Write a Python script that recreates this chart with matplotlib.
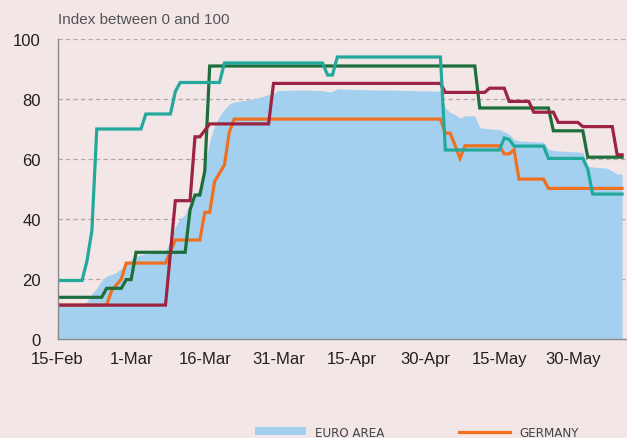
import matplotlib
matplotlib.use("Agg")
import matplotlib.pyplot as plt
import matplotlib.dates as mdates
from matplotlib import font_manager
from matplotlib.patches import Patch
from matplotlib.lines import Line2D
import pandas as pd

START = pd.Timestamp("2020-02-15")

# Day offsets from 15-Feb-2020 and index values (0-100)
euro_days = [0, 5, 6, 7, 8, 9, 10, 11, 12, 13, 14, 15, 16, 17, 18, 22, 23, 24, 25, 26, 27, 28, 29, 30,
             31, 32, 33, 34, 35, 36, 38, 40, 42, 44, 45, 50, 54, 55, 56, 57, 60, 65, 70, 75, 78, 79,
             80, 81, 82, 83, 85, 86, 87, 90, 92, 93, 94, 99, 100, 101, 107, 108, 112, 113, 114, 115]
euro_vals = [11.5, 11.7, 12.5, 15, 17, 19.5, 21, 21.5, 22.2, 23.5, 25, 26.5, 27.5, 28, 28.5, 29, 33, 37.5, 40, 41.5,
             45.5, 48, 50, 57.8, 66, 71, 74.3, 76.5, 78.3, 79, 79.5, 80, 81, 82, 82.8, 83, 82.8, 82.4, 82.5,
             83.4, 83.2, 83, 82.9, 82.7, 82.6, 77, 75.5, 74.8, 73.6, 74.4, 74.4, 70.5, 70.2, 69.8, 68.3, 66.5,
             66, 65.6, 63.3, 62.8, 62.2, 57.5, 56.9, 56, 55, 55]

germany_days = [0, 10, 11, 13, 14, 22, 24, 29, 30, 31, 32, 34, 35, 36, 78, 79, 80, 82, 83, 90, 91, 92, 93,
                94, 99, 100, 115]
germany_vals = [11.3, 11.3, 16, 20, 25.3, 25.3, 33, 33, 42.2, 42.2, 52.5, 58, 69, 73.3, 73.3, 68.6, 68.6, 60.2,
                64.4, 64.4, 61.7, 61.7, 63.1, 53.3, 53.3, 50.2, 50.2]

france_days = [0, 9, 10, 13, 14, 15, 16, 26, 27, 28, 29, 30, 31, 85, 86, 100, 101, 107, 108, 115]
france_vals = [13.9, 13.9, 16.9, 16.9, 19.8, 19.8, 28.9, 28.9, 43, 48, 48, 56, 91, 91, 77, 77, 69.4, 69.4, 60.6, 60.6]

spain_days = [0, 22, 24, 27, 28, 29, 30, 31, 43, 44, 78, 79, 87, 88, 91, 92, 96, 97, 101, 102, 106, 107,
              113, 114, 115]
spain_vals = [11.3, 11.3, 46.1, 46.1, 67.4, 67.4, 69.5, 71.7, 71.7, 85.2, 85.2, 82.2, 82.2, 83.6, 83.6, 79.2,
              79.2, 75.6, 75.6, 72.2, 72.2, 70.8, 70.8, 61.4, 61.4]

italy_days = [0, 5, 6, 7, 8, 17, 18, 23, 24, 25, 33, 34, 54, 55, 56, 57, 78, 79, 90, 91, 92, 93, 99, 100,
              107, 108, 109, 115]
italy_vals = [19.5, 19.5, 26, 36, 70, 70, 75, 75, 82.5, 85.5, 85.5, 92, 92, 88, 88, 94, 94, 63, 63, 67, 66.5,
              64.3, 64.3, 60.2, 60.2, 56.7, 48.3, 48.3]

tick_days = [0, 15, 30, 45, 60, 75, 90, 105]
y_ticks = [0, 20, 40, 60, 80, 100]

labels = {"euro": "EURO AREA", "germany": "GERMANY"}
colors = {"euro": "#a3d0ee", "germany": "#f07020", "france": "#1d6e3c", "italy": "#22a99c", "spain": "#9c2442"}
BG = "#f2e6e7"


def to_dates(days):
    return START + pd.to_timedelta(days, unit="D")


# pick a condensed face for the legend if one is installed
_installed = {(f.name, f.stretch) for f in font_manager.fontManager.ttflist}
_names = {n for n, _ in _installed}
if "Liberation Sans Narrow" in _names:
    legend_font = {"family": "Liberation Sans Narrow", "size": 10}
elif any(n == "DejaVu Sans" and s == "condensed" for n, s in _installed):
    legend_font = {"family": "DejaVu Sans", "stretch": "condensed", "size": 9.5}
else:
    legend_font = {"family": "Lato", "size": 9.5}

W, H = 627, 439
fig = plt.figure(figsize=(W / 100, H / 100), dpi=100, facecolor=BG)
ax = fig.add_axes([57.5 / W, (H - 340) / H, (W - 57.5) / W, 300 / H])
ax.set_facecolor(BG)

ax.fill_between(to_dates(euro_days), 0, euro_vals, color=colors["euro"], lw=0, zorder=2)
lw = 2.3
ax.plot(to_dates(germany_days), germany_vals, color=colors["germany"], lw=lw, zorder=3, solid_joinstyle="miter")
ax.plot(to_dates(france_days), france_vals, color=colors["france"], lw=lw, zorder=4, solid_joinstyle="miter")
ax.plot(to_dates(spain_days), spain_vals, color=colors["spain"], lw=lw, zorder=5, solid_joinstyle="miter")
ax.plot(to_dates(italy_days), italy_vals, color=colors["italy"], lw=lw, zorder=6, solid_joinstyle="miter")

ax.set_xlim(START, START + pd.Timedelta(days=116))
ax.set_ylim(0, 100)

ax.set_yticks(y_ticks)
ax.set_yticklabels([str(v) for v in y_ticks], fontsize=12, fontfamily="Liberation Sans", color="#231f20")
ax.yaxis.grid(True, color="#b0a8a9", linestyle=(0, (3.5, 2.5)), lw=0.9, zorder=1)
ax.set_axisbelow(True)

ax.set_xticks(to_dates(tick_days))
ax.xaxis.set_major_formatter(mdates.DateFormatter("%-d-%b"))
for t in ax.get_xticklabels():
    t.set_fontsize(12)
    t.set_fontfamily("Liberation Sans")
    t.set_color("#231f20")

ax.tick_params(axis="y", length=0, pad=12)
ax.tick_params(axis="x", direction="in", length=4.3, width=0.9, color="#8a8a8a", pad=9)

for s in ["top", "right"]:
    ax.spines[s].set_visible(False)
for s in ["left", "bottom"]:
    ax.spines[s].set_color("#8a8a8a")
    ax.spines[s].set_linewidth(1.0)
    ax.spines[s].set_zorder(7)

fig.text(58 / W, 1 - 24 / H, "Index between 0 and 100", fontsize=11, fontfamily="Liberation Sans",
         color="#555555", va="baseline", ha="left")

common = dict(loc="center left", frameon=False, borderpad=0, borderaxespad=0, handlelength=3.9,
              handleheight=0.55, handletextpad=0.65, prop=legend_font, labelcolor="#444444")
leg1 = fig.legend(handles=[Patch(facecolor=colors["euro"], edgecolor="none", label=labels["euro"])],
                  bbox_to_anchor=(255 / W, 1 - 433.5 / H), **common)
leg2 = fig.legend(handles=[Line2D([], [], color=colors["germany"], lw=lw, label=labels["germany"])],
                  bbox_to_anchor=(459 / W, 1 - 433.5 / H), **common)

fig.savefig("out.png", dpi=100, facecolor=BG)
